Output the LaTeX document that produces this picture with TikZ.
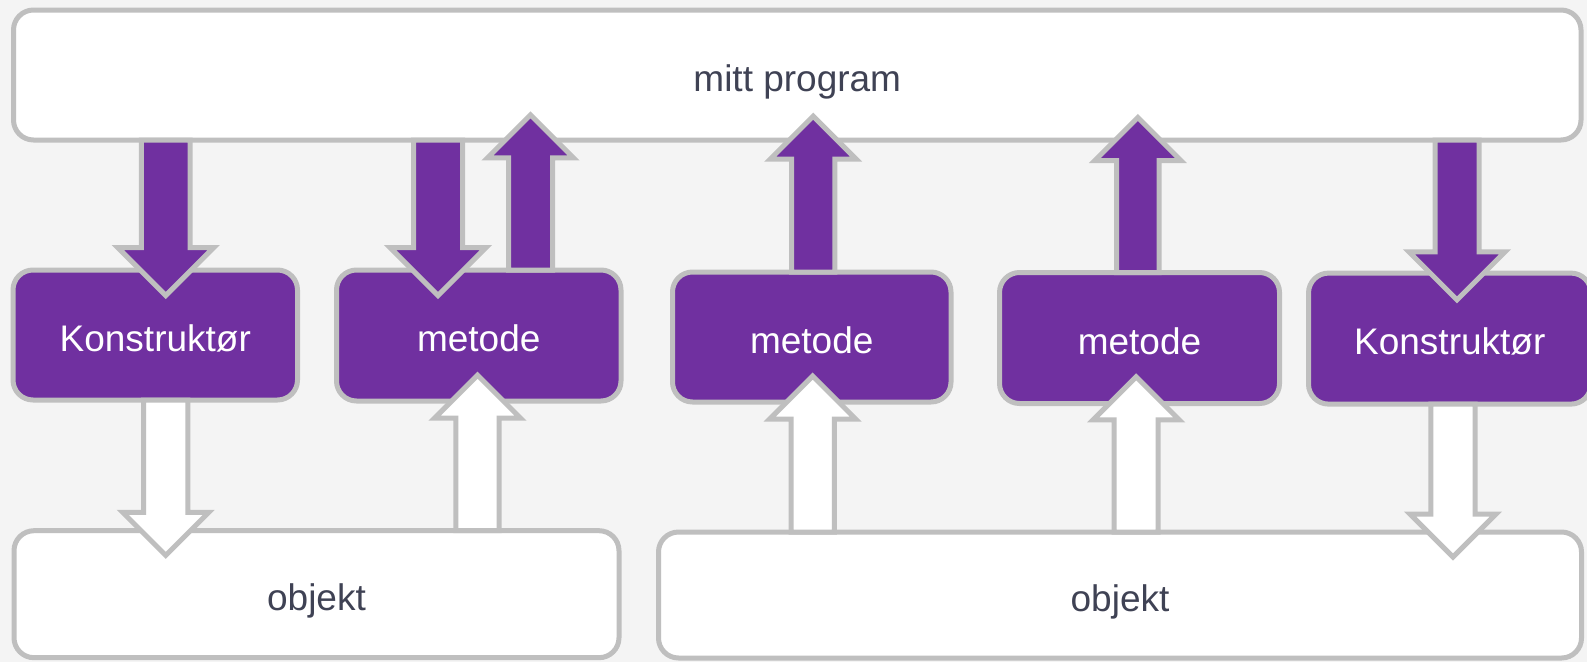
\documentclass[tikz,border=0pt]{standalone}
\usepackage{fontspec}
\setmainfont{Liberation Sans}
\usetikzlibrary{calc}

\definecolor{plum}{HTML}{7030A0}
\definecolor{rim}{HTML}{BFBFBF}
\definecolor{canvas}{HTML}{F4F4F4}
\definecolor{ink}{HTML}{3F4254}

% Block arrow: #1 style, #2 start point (middle of the open end), #3 tip,
% #4 half width of the shaft, #5 half width (and length) of the head
\newcommand\blockarr[5]{%
  \draw[#1] let \p1=#2, \p2=#3, \n1={sign(\y2-\y1)} in
    (\x1-#4,\y1) -- (\x1-#4,\y2-\n1*#5) -- (\x1-#5,\y2-\n1*#5) -- (\x1,\y2)
    -- (\x1+#5,\y2-\n1*#5) -- (\x1+#4,\y2-\n1*#5) -- (\x1+#4,\y1) -- cycle;
}

\begin{document}
\begin{tikzpicture}[x=1pt,y=-1pt,
  box/.style={rounded corners=20pt, draw=rim, line width=5pt, inner sep=0pt,
    outer sep=0pt, font=\fontsize{37}{44}\selectfont,
    text height=38pt, text depth=6pt},
  plain/.style={box, fill=white, text=ink},
  func/.style={box, fill=plum, text=white},
  parrow/.style={draw=rim, fill=plum, line width=5pt, line join=miter},
  warrow/.style={draw=rim, fill=white, line width=5pt, line join=miter}]

\fill[canvas] (0,0) rectangle (1587,662);
\useasboundingbox (0,0) rectangle (1587,662);
\clip (0,0) rectangle (1587,662);

% program, functions and objects
\node[plain, minimum width=1567.5pt, minimum height=130pt] (prog) at (797.25,75) {mitt program};
\node[func, minimum width=284.5pt, minimum height=130pt] (k1) at (155.25,335) {Konstruktør};
\node[func, minimum width=284.5pt, minimum height=131pt] (m1) at (478.75,335.5) {metode};
\node[func, minimum width=278.5pt, minimum height=130pt] (m2) at (811.75,337) {metode};
\node[func, minimum width=280pt, minimum height=131pt] (m3) at (1139.5,338) {metode};
\node[func, minimum width=282.5pt, minimum height=131pt] (k2) at (1449.75,338.6) {Konstruktør};
\node[plain, minimum width=605pt, minimum height=127pt] (o1) at (316.5,594.2) {objekt};
\node[plain, minimum width=923pt, minimum height=126pt] (o2) at (1120,595) {objekt};

% calls from the program and results back to it
\blockarr{parrow}{($(prog.south -| k1.center)+(10.5,0)$)}{($(k1.north)+(10.5,25.5)$)}{24.3pt}{48pt}
\blockarr{parrow}{($(prog.south -| m1.center)+(-40.75,0)$)}{($(m1.north)+(-40.75,25.5)$)}{24.5pt}{48pt}
\blockarr{parrow}{($(m1.north)+(51.75,0)$)}{($(prog.south -| m1.center)+(51.75,-25.2)$)}{22pt}{43pt}
\blockarr{parrow}{($(m2.north)+(1.45,0)$)}{($(prog.south -| m2.center)+(1.45,-23.8)$)}{21.7pt}{43pt}
\blockarr{parrow}{($(m3.north)+(-1.7,0)$)}{($(prog.south -| m3.center)+(-1.7,-22.5)$)}{21.3pt}{43pt}
\blockarr{parrow}{($(prog.south -| k2.center)+(7.25,0)$)}{($(k2.north)+(7.25,26.7)$)}{22pt}{48pt}

% effects on the objects and data read from them
\blockarr{warrow}{($(k1.south)+(10.45,0)$)}{($(o1.north -| k1.center)+(10.45,24.65)$)}{22.2pt}{43pt}
\blockarr{warrow}{($(o1.north -| m1.center)+(-1.25,0)$)}{($(m1.south)+(-1.25,-25.8)$)}{21.7pt}{43pt}
\blockarr{warrow}{($(o2.north -| m2.center)+(0.95,0)$)}{($(m2.south)+(0.95,-26)$)}{21.7pt}{43pt}
\blockarr{warrow}{($(o2.north -| m3.center)+(-3.3,0)$)}{($(m3.south)+(-3.3,-26.7)$)}{22pt}{43pt}
\blockarr{warrow}{($(k2.south)+(3.25,0)$)}{($(o2.north -| k2.center)+(3.25,25)$)}{22.2pt}{43pt}
\end{tikzpicture}
\end{document}
